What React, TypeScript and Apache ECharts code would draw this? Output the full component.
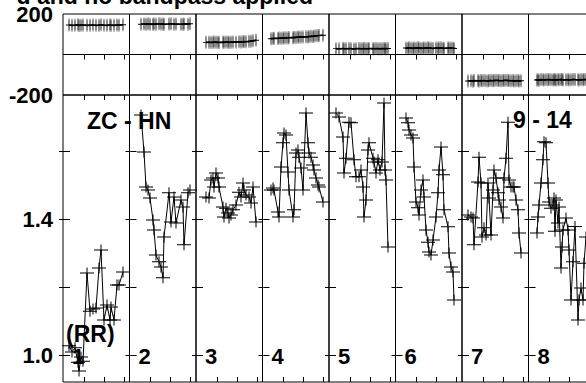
import React, { useEffect, useRef } from "react";
import * as echarts from "echarts";

// ---- data (time in hours from segment start, amplitude) ----
const segLabels = ["1", "2", "3", "4", "5", "6", "7", "8"];

const amp1 = [[0.25,1.029],[0.40,1.011],[0.55,1.023],[0.70,0.981],[0.75,0.955],[0.85,0.996],[0.95,0.984],[1.15,1.243],[1.30,1.131],[1.45,1.137],[1.60,1.140],[1.75,1.258],[1.85,1.311],[2.00,1.105],[2.15,1.149],[2.30,1.105],[2.35,1.143],[2.50,1.105],[2.65,1.208],[2.75,1.208],[2.95,1.246]];
const amp2 = [[0.525,1.708],[0.675,1.599],[0.775,1.496],[0.875,1.487],[0.975,1.464],[1.125,1.399],[1.175,1.370],[1.275,1.296],[1.425,1.276],[1.525,1.261],[1.625,1.229],[1.675,1.349],[1.925,1.479],[2.025,1.393],[2.175,1.467],[2.275,1.390],[2.525,1.458],[2.625,1.437],[2.675,1.326],[2.875,1.479],[2.975,1.487]];
const amp3 = [[0.45,1.467],[0.60,1.464],[0.70,1.517],[0.80,1.523],[0.85,1.496],[0.95,1.537],[1.05,1.523],[1.10,1.496],[1.30,1.437],[1.35,1.408],[1.45,1.434],[1.55,1.420],[1.60,1.405],[1.70,1.414],[1.80,1.429],[1.95,1.443],[2.10,1.481],[2.20,1.467],[2.30,1.508],[2.35,1.487],[2.45,1.473],[2.60,1.467],[2.70,1.449],[2.80,1.496],[2.95,1.393]];
const amp4 = [[0.375,1.487],[0.475,1.493],[0.525,1.487],[0.725,1.423],[0.775,1.408],[0.875,1.555],[0.975,1.626],[1.025,1.655],[1.125,1.649],[1.225,1.540],[1.275,1.487],[1.475,1.408],[1.525,1.429],[1.625,1.596],[1.725,1.605],[1.775,1.584],[1.875,1.552],[1.975,1.487],[2.125,1.714],[2.225,1.626],[2.275,1.596],[2.375,1.584],[2.475,1.561],[2.525,1.546],[2.625,1.523],[2.725,1.502],[2.775,1.496],[2.975,1.452]];
const amp5 = [[0.30,1.714],[0.45,1.702],[0.65,1.643],[0.70,1.537],[0.80,1.581],[0.95,1.687],[1.05,1.685],[1.20,1.576],[1.30,1.526],[1.45,1.526],[1.55,1.546],[1.65,1.496],[1.70,1.408],[1.80,1.458],[1.90,1.605],[1.95,1.626],[2.15,1.581],[2.20,1.570],[2.30,1.537],[2.40,1.576],[2.50,1.546],[2.60,1.570],[2.70,1.743],[2.75,1.546],[2.80,1.517],[2.90,1.320]];
const amp6 = [[0.475,1.699],[0.575,1.685],[0.625,1.664],[0.725,1.649],[0.825,1.640],[0.875,1.555],[0.975,1.452],[1.075,1.435],[1.125,1.414],[1.225,1.487],[1.325,1.517],[1.375,1.467],[1.475,1.370],[1.575,1.334],[1.625,1.305],[1.725,1.296],[1.825,1.340],[1.975,1.408],[2.075,1.479],[2.125,1.546],[2.225,1.614],[2.325,1.532],[2.375,1.429],[2.575,1.379],[2.625,1.302],[2.725,1.261],[2.825,1.246],[2.875,1.164]];
const amp7 = [[0.25,1.414],[0.40,1.408],[0.50,1.405],[0.55,1.326],[0.75,1.511],[0.80,1.584],[0.90,1.508],[0.95,1.349],[1.05,1.376],[1.15,1.355],[1.25,1.508],[1.30,1.464],[1.40,1.355],[1.50,1.487],[1.55,1.546],[1.65,1.523],[1.75,1.479],[1.80,1.458],[1.90,1.437],[2.00,1.405],[2.05,1.523],[2.15,1.581],[2.25,1.687],[2.30,1.517],[2.40,1.496],[2.50,1.496],[2.55,1.496],[2.65,1.458],[2.75,1.429],[2.80,1.361],[2.90,1.302]];
const amp8 = [[0.375,1.361],[0.425,1.408],[0.475,1.443],[0.575,1.508],[0.675,1.576],[0.725,1.629],[0.825,1.626],[0.925,1.508],[0.975,1.452],[1.075,1.434],[1.175,1.443],[1.225,1.464],[1.275,1.366],[1.325,1.458],[1.425,1.390],[1.475,1.437],[1.575,1.258],[1.625,1.320],[1.675,1.370],[1.825,1.405],[1.925,1.370],[1.975,1.311],[2.075,1.164],[2.175,1.276],[2.275,1.380],[2.425,1.105],[2.475,1.164],[2.575,1.199],[2.675,1.164],[2.725,1.272],[2.825,1.349]];

// phase (degrees) at the same times
const ph1 = [146,144,145,147,143,145,146,144,145,146,144,145,147,145,144,146,145,144,146,145,147];
const ph2 = [149,151,150,152,150,149,151,150,152,151,150,149,151,152,150,151,149,150,151,150,152];
const ph3 = [60,61,59,60,62,60,61,59,61,60,62,61,60,61,62,61,63,62,63,64,63,65,66,68,70];
const ph4 = [78,79,80,79,81,80,82,81,83,82,84,83,85,84,86,85,87,86,88,87,89,90,89,91,92,93,94,95];
const ph5 = [29,28,30,29,28,30,29,27,29,30,28,29,30,28,29,30,29,28,30,29,28,29,30,28,29,30];
const ph6 = [32,31,33,31,30,32,31,33,32,30,31,32,31,33,32,31,30,32,31,32,33,31,30,32,31,32,31,30];
const ph7 = [-131,-130,-132,-129,-130,-131,-129,-130,-128,-130,-131,-129,-128,-130,-129,-127,-129,-128,-130,-129,-128,-127,-129,-128,-130,-129,-131,-130,-129,-131,-130];
const ph8 = [-126,-125,-127,-124,-125,-126,-124,-125,-123,-125,-126,-124,-125,-126,-124,-125,-123,-124,-126,-125,-124,-126,-125,-123,-124,-125,-126,-124,-125,-123,-124];

const ampSegments = [amp1, amp2, amp3, amp4, amp5, amp6, amp7, amp8];
const phaseSegments = [ph1, ph2, ph3, ph4, ph5, ph6, ph7, ph8];

const phaseLabelValues = [-200, 200];
const ampTickValues = [1.0, 1.2, 1.4, 1.6];
const ampLabelValues = [1.0, 1.4];
const timeTickValues = [1, 2, 3];

// ---- layout / style ----
const FONT = "Liberation Sans";
const X0 = 63;
const SEG_W = 66.5;
const TOP_T = 14, TOP_H = 81, BOT_T = 95, BOT_H = 287;
const T_MIN = -0.05, T_MAX = 3.275;
const A_MIN = 0.9226, A_MAX = 1.7668;
const CROSS = "path://M0,5H14V6H0Z M6.5,0H7.5V11H6.5Z";

export default function App() {
  const ref = useRef<HTMLDivElement>(null);
  useEffect(() => {
    document.body.style.margin = "0";
    const chart = echarts.init(ref.current!, undefined, { renderer: "svg" });
    const grids: any[] = [];
    const xAxes: any[] = [];
    const yAxes: any[] = [];
    const series: any[] = [];
    const labelStyle = { fontSize: 22, fontWeight: "bold", color: "#000", fontFamily: FONT, margin: 10 };

    ampSegments.forEach((amp, k) => {
      const left = X0 + SEG_W * k;
      const gTop = grids.length;
      grids.push({ left, top: TOP_T, width: SEG_W, height: TOP_H, show: true, borderColor: "#000", borderWidth: 1, backgroundColor: "transparent", outerBoundsMode: "none" });
      const gBot = grids.length;
      grids.push({ left, top: BOT_T, width: SEG_W, height: BOT_H, show: true, borderColor: "#000", borderWidth: 1, backgroundColor: "transparent", outerBoundsMode: "none" });

      const xAx = (gridIndex: number, position: string) => ({
        type: "value", gridIndex, position, min: T_MIN, max: T_MAX,
        axisLine: { show: false },
        axisTick: { show: true, inside: true, length: 5, customValues: timeTickValues, lineStyle: { color: "#000" } },
        axisLabel: { show: false }, splitLine: { show: false },
      });
      const xTop = xAxes.length; xAxes.push(xAx(gTop, "top"));
      const xBot = xAxes.length; xAxes.push(xAx(gBot, "bottom"));
      xAxes.push(xAx(gBot, "top"));

      const yTop = yAxes.length;
      yAxes.push({
        type: "value", gridIndex: gTop, position: "left", min: -200, max: 200,
        axisLine: { show: false }, axisTick: { show: false }, splitLine: { show: false },
        axisLabel: k === 0 ? { ...labelStyle, customValues: phaseLabelValues, formatter: (v: number) => String(v) } : { show: false },
      });
      const yBot = yAxes.length;
      yAxes.push({
        type: "value", gridIndex: gBot, position: "left", min: A_MIN, max: A_MAX,
        axisLine: { show: false }, splitLine: { show: false },
        axisTick: { show: true, inside: true, length: 6, customValues: ampTickValues, lineStyle: { color: "#000" } },
        axisLabel: k === 0 ? { ...labelStyle, customValues: ampLabelValues, formatter: (v: number) => v.toFixed(1) } : { show: false },
      });
      yAxes.push({
        type: "value", gridIndex: gBot, position: "right", min: A_MIN, max: A_MAX,
        axisLine: { show: false }, splitLine: { show: false },
        axisTick: { show: true, inside: true, length: 5, customValues: ampTickValues, lineStyle: { color: "#000" } },
        axisLabel: { show: false },
      });

      const phaseData = amp.map((p, i) => [p[0], phaseSegments[k][i]]);
      series.push({
        type: "scatter", xAxisIndex: xTop, yAxisIndex: yTop, data: phaseData,
        symbol: "rect", symbolSize: [1.4, 13], itemStyle: { color: "#7a7a7a" }, silent: true, z: 2,
      });
      series.push({
        type: "line", xAxisIndex: xTop, yAxisIndex: yTop, data: phaseData,
        symbol: CROSS, symbolSize: [6, 10], showAllSymbol: true,
        itemStyle: { color: "#000" }, lineStyle: { color: "#000", width: 1.6 }, silent: true, z: 3,
        markLine: {
          silent: true, symbol: ["none", "none"], label: { show: false },
          lineStyle: { color: "#000", type: "solid", width: 1 },
          data: [{ yAxis: 0 }],
        },
      });
      series.push({
        type: "line", xAxisIndex: xBot, yAxisIndex: yBot, data: amp,
        symbol: CROSS, symbolSize: [14, 11], showAllSymbol: true,
        itemStyle: { color: "#000" }, lineStyle: { color: "#000", width: 1 }, silent: true, z: 3,
      });
    });

    const txt = (text: string, x: number, y: number, size: number, align = "left") => ({
      type: "text", x, y, z: 100,
      style: { text, font: `bold ${size}px "${FONT}"`, fill: "#000", textAlign: align, textVerticalAlign: "middle" },
    });
    const elements: any[] = [
      txt("d and no bandpass applied", 313, -4, 23, "right"),
      txt("ZC - HN", 87, 121, 23),
      txt("9 - 14", 513, 120, 23),
      txt("(RR)", 66, 334, 23),
    ];
    segLabels.forEach((s, k) => elements.push(txt(s, X0 + SEG_W * k + 9, 356, 22)));

    chart.setOption({
      animation: false,
      textStyle: { fontFamily: FONT },
      grid: grids,
      xAxis: xAxes,
      yAxis: yAxes,
      series,
      graphic: { elements },
    });
    return () => chart.dispose();
  }, []);
  return <div ref={ref} style={{ width: 586, height: 383 }} />;
}
